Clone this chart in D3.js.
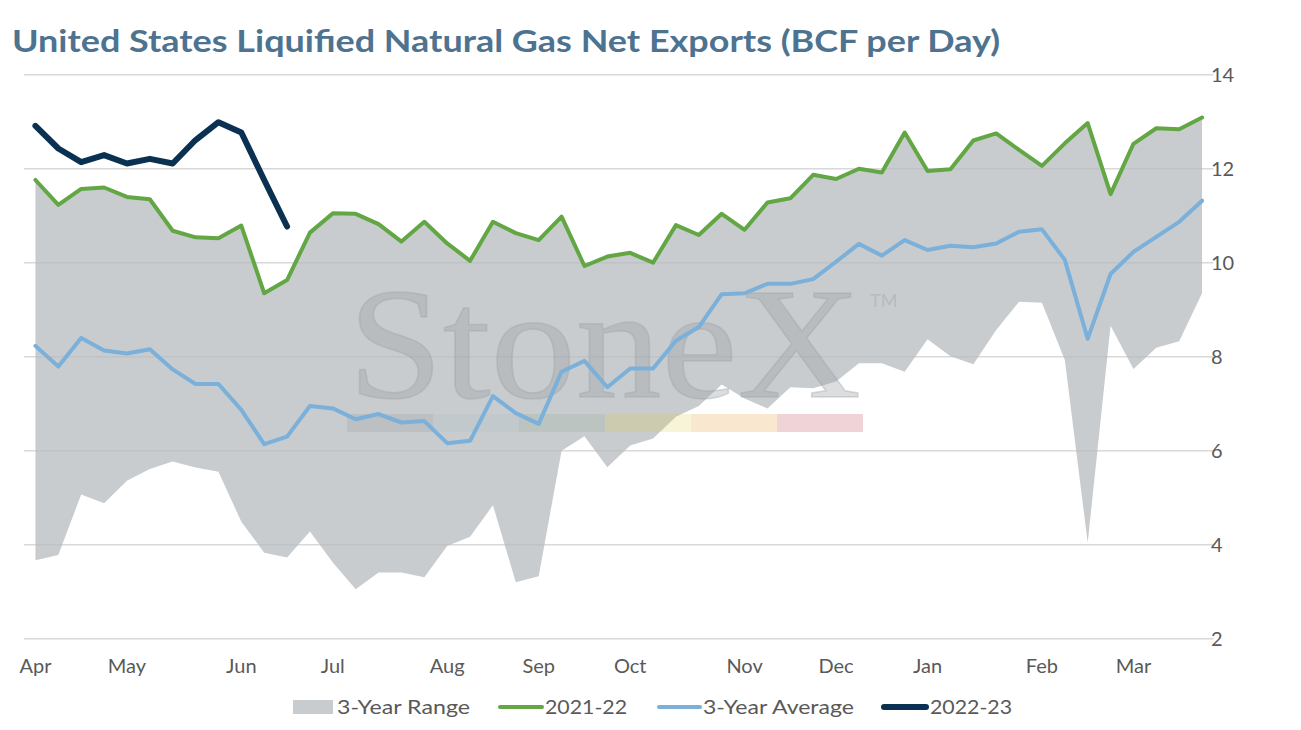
<!DOCTYPE html>
<html>
<head>
<meta charset="utf-8">
<script src="https://cdn.jsdelivr.net/npm/d3@7"></script>
<style>
  html, body { margin: 0; padding: 0; background: #ffffff; }
  svg { display: block; }
</style>
</head>
<body>
<div id="chart"></div>
<script>
// ---------------- DATA ----------------
const title = "United States Liquified Natural Gas Net Exports (BCF per Day)";

// 52 weekly points, April through March
const weeks = d3.range(1, 53);

const monthLabels = ["Apr", "May", "Jun", "Jul", "Aug", "Sep", "Oct", "Nov", "Dec", "Jan", "Feb", "Mar"];
const monthStartWeek = [1, 5, 10, 14, 19, 23, 27, 32, 36, 40, 45, 49];

const yTicks = [2, 4, 6, 8, 10, 12, 14];

const rangeHigh = [11.76, 11.23, 11.57, 11.60, 11.40, 11.35, 10.68, 10.54, 10.52, 10.79,
                   9.35, 9.63, 10.64, 11.05, 11.04, 10.82, 10.45, 10.87, 10.41, 10.04,
                   10.87, 10.63, 10.48, 10.98, 9.93, 10.13, 10.21, 10.00, 10.80, 10.59,
                   11.04, 10.70, 11.28, 11.37, 11.87, 11.78, 12.00, 11.92, 12.77, 11.95,
                   11.99, 12.60, 12.75, 12.40, 12.06, 12.54, 12.97, 11.46, 12.53, 12.86,
                   12.84, 13.09];

const rangeLow = [3.67, 3.78, 5.07, 4.88, 5.36, 5.61, 5.77, 5.64, 5.55, 4.49,
                  3.83, 3.73, 4.28, 3.62, 3.05, 3.41, 3.41, 3.31, 3.97, 4.17,
                  4.84, 3.20, 3.33, 6.00, 6.31, 5.65, 6.11, 6.26, 6.72, 6.95,
                  7.41, 7.11, 6.90, 7.35, 7.33, 7.47, 7.86, 7.86, 7.68, 8.37,
                  8.01, 7.84, 8.57, 9.17, 9.15, 7.93, 4.04, 8.66, 7.74, 8.19,
                  8.33, 9.35];

const series2021 = [11.76, 11.23, 11.57, 11.60, 11.40, 11.35, 10.68, 10.54, 10.52, 10.79,
                    9.35, 9.63, 10.64, 11.05, 11.04, 10.82, 10.45, 10.87, 10.41, 10.04,
                    10.87, 10.63, 10.48, 10.98, 9.93, 10.13, 10.21, 10.00, 10.80, 10.59,
                    11.04, 10.70, 11.28, 11.37, 11.87, 11.78, 12.00, 11.92, 12.77, 11.95,
                    11.99, 12.60, 12.75, 12.40, 12.06, 12.54, 12.97, 11.46, 12.53, 12.86,
                    12.84, 13.09];

const avg3Year = [8.23, 7.79, 8.40, 8.13, 8.07, 8.16, 7.73, 7.42, 7.42, 6.87,
                  6.14, 6.30, 6.95, 6.90, 6.67, 6.78, 6.60, 6.63, 6.16, 6.21,
                  7.16, 6.80, 6.57, 7.68, 7.91, 7.35, 7.75, 7.75, 8.34, 8.63,
                  9.33, 9.35, 9.55, 9.55, 9.65, 10.02, 10.40, 10.15, 10.48, 10.27,
                  10.36, 10.33, 10.41, 10.66, 10.71, 10.06, 8.38, 9.76, 10.23, 10.55,
                  10.87, 11.32];

const series2022 = [12.91, 12.43, 12.14, 12.29, 12.11, 12.21, 12.11, 12.61, 12.99, 12.77,
                    11.76, 10.77];

const legendLabels = ["3-Year Range", "2021-22", "3-Year Average", "2022-23"];

// ---------------- STYLE ----------------
const W = 1301, H = 730;
const C = {
  title: "#4d7390",
  text: "#595959",
  grid: "#d9d9d9",
  area: "#b6bbbd",
  green: "#62a744",
  blue: "#7ab0da",
  navy: "#0b3152"
};
const FONT = "Lato, 'Open Sans', sans-serif";

const svg = d3.select("#chart").append("svg")
  .attr("width", W).attr("height", H)
  .attr("viewBox", `0 0 ${W} ${H}`);

const x = d3.scaleBand().domain(weeks).range([24, 1213.5]).paddingInner(0).paddingOuter(0);
const xc = w => x(w) + x.bandwidth() / 2;
const y = d3.scaleLinear().domain([2, 14]).range([638.7, 74.7]);

// Title
svg.append("text")
  .attr("x", 12).attr("y", 52)
  .attr("font-family", FONT)
  .attr("font-weight", 700)
  .attr("font-size", 30)
  .attr("fill", C.title)
  .attr("textLength", 988)
  .attr("lengthAdjust", "spacingAndGlyphs")
  .text(title);

// Gridlines
svg.append("g").selectAll("line").data(yTicks).join("line")
  .attr("x1", 24).attr("x2", 1213.5)
  .attr("y1", d => y(d)).attr("y2", d => y(d))
  .attr("stroke", C.grid).attr("stroke-width", 1.5);

// Range area
const rangeData = weeks.map((w, i) => ({ w, lo: rangeLow[i], hi: rangeHigh[i] }));
svg.append("path")
  .datum(rangeData)
  .attr("d", d3.area().x(d => xc(d.w)).y0(d => y(d.lo)).y1(d => y(d.hi)))
  .attr("fill", C.area).attr("fill-opacity", 0.75);

// Watermark
const wm = svg.append("g").attr("pointer-events", "none");
wm.append("text")
  .attr("x", 348).attr("y", 397)
  .attr("font-family", "'Liberation Serif', 'DejaVu Serif', serif")
  .attr("font-size", 158)
  .attr("fill", "#9aa1a5").attr("fill-opacity", 0.36)
  .attr("stroke", "#9aa1a5").attr("stroke-opacity", 0.36).attr("stroke-width", 1.5)
  .attr("textLength", 513).attr("lengthAdjust", "spacingAndGlyphs")
  .text("StoneX");
wm.append("text")
  .attr("x", 870).attr("y", 307)
  .attr("font-family", FONT)
  .attr("font-size", 18)
  .attr("fill", "#9aa1a5").attr("fill-opacity", 0.4)
  .text("TM");
const barColors = ["#8d9296", "#a6bec9", "#88a58d", "#dcc83c", "#e18714", "#b42332"];
wm.selectAll("rect").data(barColors).join("rect")
  .attr("x", (d, i) => 347 + i * 86).attr("y", 414)
  .attr("width", 86).attr("height", 18)
  .attr("fill", d => d).attr("fill-opacity", 0.2);

// Lines
const lineGen = d3.line().x(d => xc(d.w)).y(d => y(d.v));
function drawLine(vals, color, width) {
  svg.append("path")
    .datum(vals.map((v, i) => ({ w: weeks[i], v })))
    .attr("d", lineGen)
    .attr("fill", "none")
    .attr("stroke", color)
    .attr("stroke-width", width)
    .attr("stroke-linejoin", "round")
    .attr("stroke-linecap", "round");
}
drawLine(avg3Year, C.blue, 4);
drawLine(series2021, C.green, 4);
drawLine(series2022, C.navy, 6);

// Y axis labels (right)
svg.append("g").selectAll("text").data(yTicks).join("text")
  .attr("x", 1211).attr("y", d => y(d) + 7)
  .attr("font-family", FONT).attr("font-size", 20)
  .attr("fill", C.text)
  .text(d => d);

// X month labels
svg.append("g").selectAll("text").data(monthLabels).join("text")
  .attr("x", (d, i) => xc(monthStartWeek[i]))
  .attr("y", 673)
  .attr("text-anchor", "middle")
  .attr("font-family", FONT).attr("font-size", 20)
  .attr("fill", C.text)
  .text(d => d);

// Legend
const lg = svg.append("g").attr("font-family", FONT).attr("font-size", 20).attr("fill", C.text);
lg.append("rect").attr("x", 293).attr("y", 700).attr("width", 40).attr("height", 14)
  .attr("fill", C.area).attr("fill-opacity", 0.75);
lg.append("text").attr("x", 337).attr("y", 714)
  .attr("textLength", 133).attr("lengthAdjust", "spacingAndGlyphs")
  .text(legendLabels[0]);

const legLines = [
  { x1: 500, x2: 542, color: C.green, w: 4, tx: 545, len: 82, label: legendLabels[1] },
  { x1: 659, x2: 700, color: C.blue, w: 4, tx: 703, len: 151, label: legendLabels[2] },
  { x1: 884, x2: 926, color: C.navy, w: 6, tx: 930, len: 82, label: legendLabels[3] }
];
legLines.forEach(l => {
  lg.append("line").attr("x1", l.x1).attr("x2", l.x2).attr("y1", 707).attr("y2", 707)
    .attr("stroke", l.color).attr("stroke-width", l.w).attr("stroke-linecap", "round");
  lg.append("text").attr("x", l.tx).attr("y", 714)
    .attr("textLength", l.len).attr("lengthAdjust", "spacingAndGlyphs")
    .text(l.label);
});
</script>
</body>
</html>
